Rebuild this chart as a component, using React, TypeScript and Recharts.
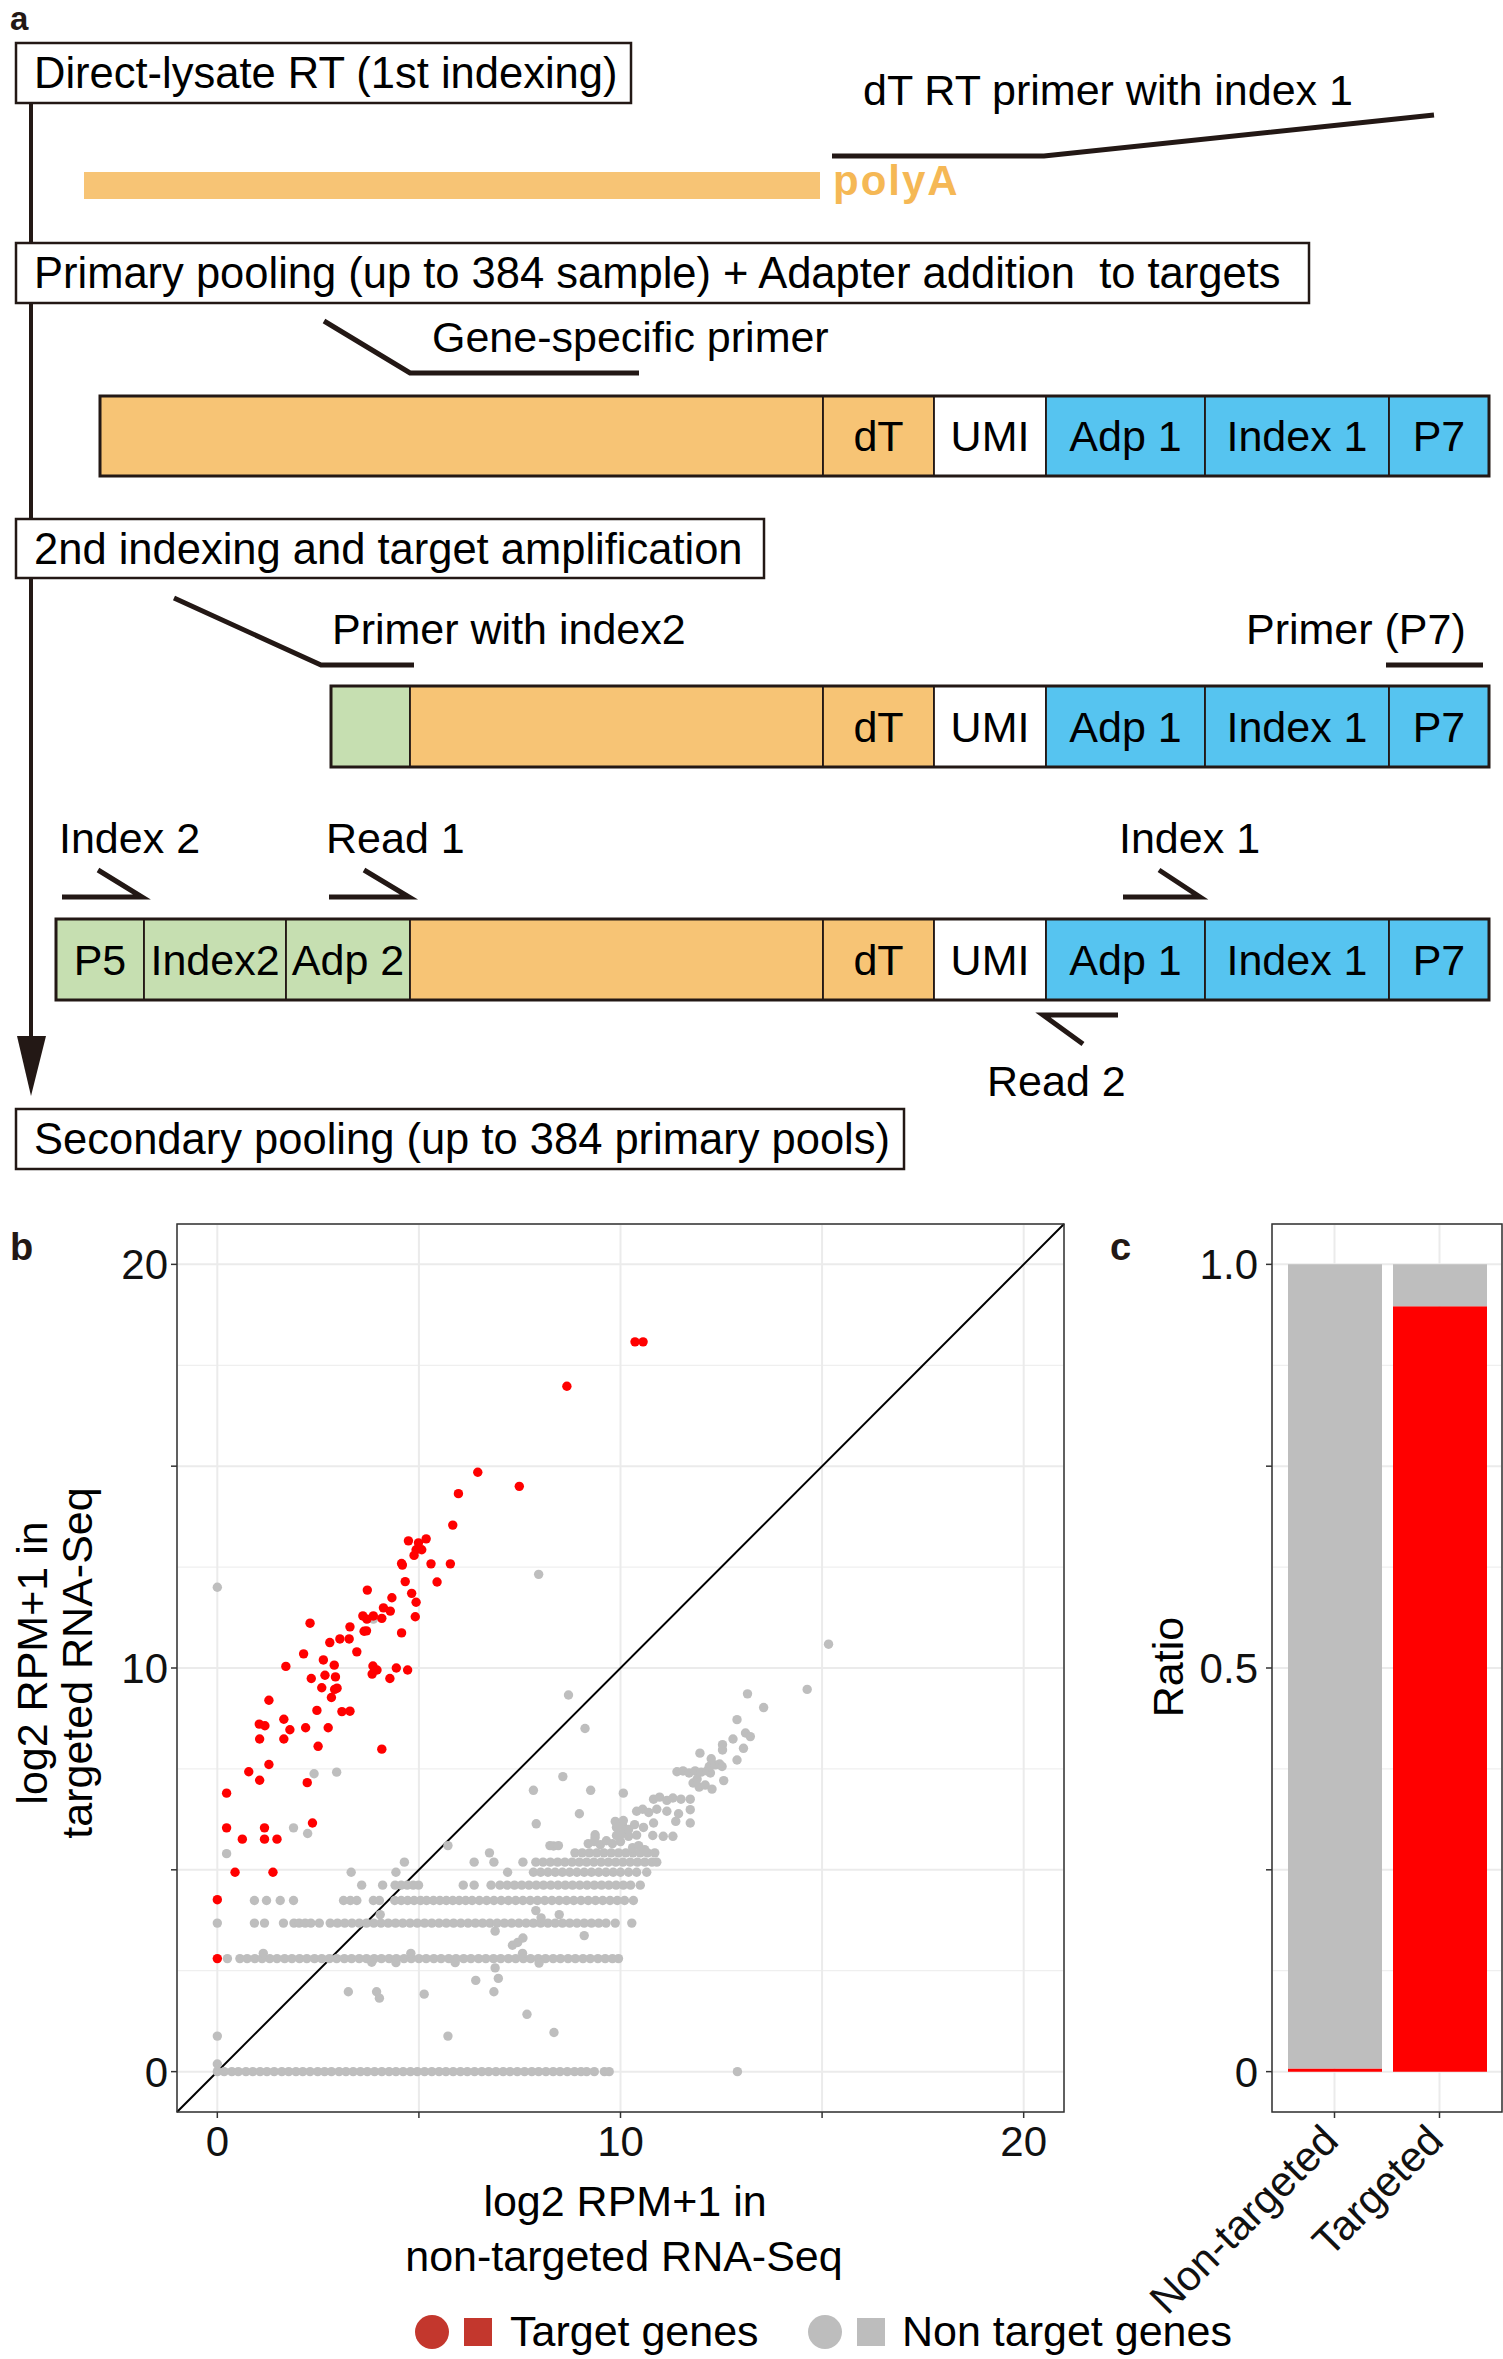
import React from "react";
import {
  ScatterChart,
  Scatter,
  BarChart,
  Bar,
  XAxis,
  YAxis,
  CartesianGrid,
  ReferenceLine,
} from "recharts";

const FONT = "Arial, 'Liberation Sans', Helvetica, sans-serif";
const INK = "#231815";
const ORANGE = "#F7C475";
const POLYA = "#F5B855";
const BLUE = "#56C4F0";
const GREEN = "#C6DFB1";
const RED = "#FF0000";
const GREY = "#BEBEBE";
const GRID = "#EBEBEB";
const LEGEND_RED = "#C3372D";
const LEGEND_GREY = "#BDBDBD";

// ---- panel b: log2 RPM+1, non-targeted (x) vs targeted (y) ----
// target genes (red)
const targetGenes: [number, number][] = [
  [0, 2.8], [0, 4.26], [0.44, 4.94], [1.38, 4.94], [0.62, 5.76], [1.17, 5.76], [1.48, 5.76],
  [0.23, 6.04], [1.17, 6.04], [2.36, 6.16], [0.23, 6.9], [1.05, 7.22], [2.23, 7.16], [0.78, 7.43],
  [1.28, 7.61], [4.08, 7.99], [2.5, 8.06], [1.05, 8.24], [1.65, 8.24], [1.8, 8.47], [2.19, 8.52],
  [2.75, 8.52], [1.04, 8.61], [1.18, 8.57], [1.65, 8.73], [2.47, 8.95], [3.09, 8.92], [3.29, 8.93],
  [1.28, 9.2], [2.83, 9.27], [2.91, 9.47], [2.97, 9.5], [2.59, 9.51], [2.33, 9.74], [2.67, 9.82],
  [2.93, 9.78], [4.28, 9.74], [3.86, 10.05], [3.96, 9.95], [3.84, 9.85], [4.44, 10.0], [4.72, 9.95],
  [1.7, 10.04], [2.9, 10.07], [2.63, 10.2], [2.14, 10.35], [3.46, 10.4], [2.79, 10.63], [3.04, 10.72],
  [3.27, 10.72], [4.57, 10.87], [3.64, 10.91], [3.7, 10.92], [3.29, 11.02], [2.3, 11.11], [3.61, 11.29],
  [3.71, 11.21], [3.87, 11.29], [4.08, 11.23], [4.91, 11.27], [4.12, 11.49], [4.29, 11.41], [4.93, 11.63],
  [4.33, 11.74], [4.82, 11.85], [3.72, 11.93], [4.66, 12.14], [5.45, 12.13], [4.57, 12.59], [4.59, 12.55],
  [5.3, 12.58], [5.78, 12.58], [4.88, 12.79], [4.93, 12.93], [5.07, 12.93], [4.74, 13.15], [4.99, 13.1],
  [5.18, 13.2], [5.84, 13.54], [5.98, 14.32], [7.49, 14.5], [6.46, 14.85], [8.67, 16.98], [10.36, 18.08],
  [10.56, 18.08],
];

// non-target genes sitting on the discrete low-count levels
const bandLevels = [0, 2.8, 3.68, 4.24, 4.62, 4.94, 5.19, 5.42];
const bandX: number[][] = [
  [0, 0.17, 0.36, 0.52, 0.71, 0.88, 1.06, 1.23, 1.41, 1.6, 1.77, 1.95, 2.12, 2.3, 2.49, 2.66, 2.83, 3.02,
    3.19, 3.37, 3.55, 3.72, 3.9, 4.08, 4.26, 4.43, 4.61, 4.79, 4.96, 5.14, 5.32, 5.5, 5.67, 5.85, 6.03,
    6.2, 6.38, 6.56, 6.73, 6.91, 7.09, 7.26, 7.44, 7.62, 7.8, 7.97, 8.15, 8.33, 8.5, 8.68, 8.86, 9.02,
    9.16, 9.35, 9.6, 9.72],
  [0.25, 0.56, 0.74, 0.93, 1.11, 1.3, 1.48, 1.67, 1.85, 2.04, 2.22, 2.41, 2.59, 2.78, 2.96, 3.15, 3.33,
    3.52, 3.7, 3.89, 4.07, 4.26, 4.44, 4.63, 4.81, 5.0, 5.18, 5.37, 5.55, 5.74, 5.92, 6.11, 6.29, 6.48,
    6.66, 6.85, 7.03, 7.22, 7.4, 7.59, 7.77, 7.96, 8.14, 8.33, 8.51, 8.7, 8.88, 9.07, 9.25, 9.44, 9.62,
    9.8, 9.95],
  [0, 0.92, 1.17, 1.64, 1.9, 2.03, 2.18, 2.32, 2.53, 2.8, 2.98, 3.16, 3.34, 3.52, 3.7, 3.88, 4.06, 4.24,
    4.42, 4.6, 4.78, 4.96, 5.14, 5.32, 5.5, 5.68, 5.86, 6.04, 6.22, 6.4, 6.58, 6.76, 6.94, 7.12, 7.3,
    7.48, 7.66, 7.84, 8.02, 8.2, 8.38, 8.56, 8.74, 8.92, 9.1, 9.28, 9.46, 9.64, 9.87, 10.28],
  [0.92, 1.22, 1.56, 1.89, 3.13, 3.3, 3.46, 3.87, 4.02, 4.4, 4.56, 4.72, 4.88, 5.04, 5.19, 5.36, 5.52,
    5.68, 5.84, 6.0, 6.16, 6.32, 6.5, 6.68, 6.86, 7.04, 7.22, 7.4, 7.58, 7.76, 7.94, 8.12, 8.3, 8.48,
    8.66, 8.84, 9.02, 9.2, 9.38, 9.56, 9.74, 9.92, 10.1, 10.32],
  [3.58, 4.1, 4.41, 4.56, 4.71, 4.86, 4.99, 6.1, 6.37, 6.79, 7.01, 7.19, 7.37, 7.55, 7.73, 7.91, 8.09,
    8.27, 8.45, 8.63, 8.81, 8.99, 9.17, 9.35, 9.53, 9.71, 9.89, 10.07, 10.25, 10.49],
  [3.32, 4.43, 7.2, 7.84, 8.02, 8.2, 8.38, 8.56, 8.74, 8.92, 9.1, 9.28, 9.46, 9.64, 9.82, 10.0, 10.2,
    10.4, 10.65],
  [4.64, 6.37, 6.86, 7.58, 7.9, 8.08, 8.26, 8.44, 8.62, 8.8, 8.98, 9.16, 9.34, 9.52, 9.7, 9.88, 10.06,
    10.24, 10.42, 10.6, 10.78, 10.9],
  [6.75, 8.87, 9.05, 9.23, 9.41, 9.59, 9.77, 9.95, 10.13, 10.31, 10.49, 10.67, 10.85],
];

// the remaining non-target genes
const otherGenes: [number, number][] = [
  [0, 12.0], [3.87, 11.21], [7.97, 12.32], [8.71, 9.33], [9.12, 8.5], [8.57, 7.31], [7.84, 6.97],
  [9.26, 6.97], [10.07, 6.9], [7.91, 6.14], [8.98, 6.39], [2.4, 7.38], [2.96, 7.42], [1.89, 6.04],
  [2.24, 5.9], [0.23, 5.4], [5.72, 5.6], [8.34, 5.59], [8.25, 5.6], [8.46, 5.6],
  [9.37, 5.87], [9.37, 5.8], [9.9, 5.85], [10.05, 5.9], [10.2, 5.83], [10.4, 5.86], [10.8, 5.85],
  [11.06, 5.83], [11.3, 5.83], [9.9, 6.05], [10.05, 6.1], [10.2, 6.0], [10.35, 6.12], [10.57, 6.05],
  [10.82, 6.16], [11.37, 6.2], [11.73, 6.16], [9.87, 6.2], [10.07, 6.22],
  [9.2, 5.65], [9.35, 5.7], [9.5, 5.62], [9.65, 5.72], [9.8, 5.65], [10.0, 5.7], [10.3, 5.55],
  [10.45, 5.6], [10.6, 5.5], [10.4, 6.45], [10.55, 6.5], [10.7, 6.42], [10.9, 6.5], [11.15, 6.45],
  [11.44, 6.39], [11.73, 6.49], [10.82, 6.75], [10.97, 6.8], [11.15, 6.72], [11.3, 6.78], [11.5, 6.75],
  [11.73, 6.75], [11.4, 7.43], [11.55, 7.45], [11.7, 7.4], [11.85, 7.45], [12.0, 7.42], [12.15, 7.45],
  [12.23, 7.4], [11.8, 7.15], [11.95, 7.05], [12.1, 7.1], [12.27, 7.0], [11.9, 7.25], [12.56, 7.21],
  [12.2, 7.56], [12.35, 7.6], [12.46, 7.62], [12.52, 7.56], [12.25, 7.75], [12.89, 7.72], [11.97, 7.89],
  [12.53, 8.1], [12.53, 7.97], [13.05, 8.01], [12.79, 8.24], [13.1, 8.39], [13.22, 8.3], [12.89, 8.72],
  [13.55, 9.02], [13.15, 9.36], [14.63, 9.47], [15.16, 10.59],
  [9.1, 3.37], [8.48, 3.89], [7.9, 3.99], [6.89, 3.48], [7.58, 3.31], [7.32, 3.13], [7.45, 3.2],
  [6.89, 2.57], [6.97, 2.31], [6.41, 2.26], [6.86, 1.98], [3.25, 1.98], [3.95, 1.98], [4.02, 1.82],
  [5.13, 1.92], [7.68, 1.42], [5.72, 0.88], [8.35, 0.97], [0, 0.88], [0, 0.19], [12.9, 0],
  [1.14, 2.93], [4.8, 2.93], [7.57, 2.93], [3.83, 2.71], [4.43, 2.7], [5.9, 2.7], [7.98, 2.69],
  [8.03, 3.81], [4.04, 3.89],
];

const axisMajor = [0, 5, 10, 15, 20];
const axisMinor = [2.5, 7.5, 12.5, 17.5];
const axisLabelled = [0, 10, 20];

// ---- panel c: share of reads from target / non-target genes ----
const libraries = ["Non-targeted", "Targeted"];
const targetShare = [0.004, 0.948];
const nonTargetShare = [0.996, 0.052];
const ratioMajor = [0, 0.25, 0.5, 0.75, 1];
const ratioMinor = [0.125, 0.375, 0.625, 0.875];
const ratioLabelled = [0, 0.5, 1];

const targetPoints = targetGenes.map(([x, y]) => ({ x, y }));
const nonTargetPoints = [
  ...bandLevels.flatMap((y, i) => bandX[i].map((x) => ({ x, y }))),
  ...otherGenes.map(([x, y]) => ({ x, y })),
];
const ratioData = libraries.map((name, i) => ({
  name,
  target: targetShare[i],
  nonTarget: nonTargetShare[i],
}));

// layout of the two plots (page pixels)
const SC = { left: 0, top: 1190, width: 1080, mTop: 34, mRight: 16, yW: 177, plotH: 888, xH: 60 };
const BC = { left: 1100, top: 1190, width: 403, mTop: 34, mRight: 1, yW: 172, plotH: 888, xH: 250 };

const TICK_TEXT = { fontSize: 42, fontFamily: FONT, fill: "#111" };

const dot = (fill: string) => (p: any) => <circle cx={p.cx} cy={p.cy} r={4.7} fill={fill} />;

const SlantTick = (props: any) => {
  const { x, y, payload } = props;
  return (
    <text
      transform={`translate(${x + 6},${y + 23}) rotate(-45)`}
      textAnchor="end"
      fontSize={42}
      fontFamily={FONT}
      fill="#111"
    >
      {payload.value}
    </text>
  );
};

function ScatterPanel() {
  return (
    <div style={{ position: "absolute", left: SC.left, top: SC.top }}>
      <ScatterChart
        width={SC.width}
        height={SC.mTop + SC.plotH + SC.xH}
        margin={{ top: SC.mTop, right: SC.mRight, bottom: 0, left: 0 }}
      >
        <XAxis
          type="number"
          dataKey="x"
          domain={[-1, 21]}
          ticks={axisMajor}
          interval={0}
          allowDataOverflow
          axisLine={false}
          tickLine={{ stroke: "#333", strokeWidth: 1.5 }}
          tickSize={6}
          tickMargin={8}
          height={SC.xH}
          tick={TICK_TEXT}
          tickFormatter={(v: number) => (axisLabelled.includes(v) ? String(v) : "")}
        />
        <YAxis
          type="number"
          dataKey="y"
          domain={[-1, 21]}
          ticks={axisMajor}
          interval={0}
          allowDataOverflow
          axisLine={false}
          tickLine={{ stroke: "#333", strokeWidth: 1.5 }}
          tickSize={6}
          tickMargin={3}
          width={SC.yW}
          tick={TICK_TEXT}
          tickFormatter={(v: number) => (axisLabelled.includes(v) ? String(v) : "")}
        />
        <XAxis xAxisId="minor" type="number" domain={[-1, 21]} ticks={axisMinor} allowDataOverflow hide />
        <YAxis yAxisId="minor" type="number" domain={[-1, 21]} ticks={axisMinor} allowDataOverflow hide />
        <CartesianGrid xAxisId="minor" yAxisId="minor" stroke={GRID} strokeWidth={1} />
        <CartesianGrid stroke={GRID} strokeWidth={2} />
        <Scatter data={nonTargetPoints} fill={GREY} shape={dot(GREY)} isAnimationActive={false} />
        <Scatter data={targetPoints} fill={RED} shape={dot(RED)} isAnimationActive={false} />
        <ReferenceLine
          segment={[
            { x: -1, y: -1 },
            { x: 21, y: 21 },
          ]}
          stroke="#000"
          strokeWidth={2}
        />
      </ScatterChart>
    </div>
  );
}

function RatioPanel() {
  return (
    <div style={{ position: "absolute", left: BC.left, top: BC.top }}>
      <BarChart
        width={BC.width}
        height={BC.mTop + BC.plotH + BC.xH}
        data={ratioData}
        margin={{ top: BC.mTop, right: BC.mRight, bottom: 0, left: 0 }}
        barSize={94}
      >
        <XAxis
          dataKey="name"
          padding={{ left: 10, right: 10 }}
          interval={0}
          axisLine={false}
          tickLine={{ stroke: "#333", strokeWidth: 1.5 }}
          tickSize={6}
          tickMargin={2}
          height={BC.xH}
          tick={<SlantTick />}
        />
        <YAxis
          type="number"
          domain={[-0.05, 1.05]}
          ticks={ratioMajor}
          interval={0}
          allowDataOverflow
          axisLine={false}
          tickLine={{ stroke: "#333", strokeWidth: 1.5 }}
          tickSize={6}
          tickMargin={8}
          width={BC.yW}
          tick={TICK_TEXT}
          tickFormatter={(v: number) => (ratioLabelled.includes(v) ? (v === 1 ? "1.0" : String(v)) : "")}
        />
        <YAxis yAxisId="minor" type="number" domain={[-0.05, 1.05]} ticks={ratioMinor} allowDataOverflow hide />
        <CartesianGrid yAxisId="minor" vertical={false} stroke={GRID} strokeWidth={1} />
        <CartesianGrid stroke={GRID} strokeWidth={2} />
        <Bar dataKey="target" stackId="s" fill={RED} isAnimationActive={false} />
        <Bar dataKey="nonTarget" stackId="s" fill={GREY} isAnimationActive={false} />
      </BarChart>
    </div>
  );
}

// ---- panel a: library construction schematic ----
type Seg = [string, string, number, number];
const TAIL: Seg[] = [
  ["dT", ORANGE, 823, 934],
  ["UMI", "#FFFFFF", 934, 1046],
  ["Adp 1", BLUE, 1046, 1205],
  ["Index 1", BLUE, 1205, 1389],
  ["P7", BLUE, 1389, 1489],
];

function Construct({ y, h, segs }: { y: number; h: number; segs: Seg[] }) {
  const x0 = segs[0][2];
  const x1 = segs[segs.length - 1][3];
  return (
    <g>
      {segs.map(([label, fill, a, b], i) => (
        <g key={i}>
          <rect x={a} y={y} width={b - a} height={h} fill={fill} stroke={INK} strokeWidth={1.8} />
          {label && (
            <text x={(a + b) / 2} y={y + h / 2 + 15} textAnchor="middle" fontSize={43} fontFamily={FONT} fill="#000">
              {label}
            </text>
          )}
        </g>
      ))}
      <rect x={x0} y={y} width={x1 - x0} height={h} fill="none" stroke={INK} strokeWidth={3} />
    </g>
  );
}

function StepBox({ x, y, w, h, text }: { x: number; y: number; w: number; h: number; text: string }) {
  return (
    <g>
      <rect x={x} y={y} width={w} height={h} fill="#fff" stroke={INK} strokeWidth={2.5} />
      <text x={x + 18} y={y + h / 2 + 15} fontSize={43.5} fontFamily={FONT} fill="#000" style={{ whiteSpace: "pre" }}>
        {text}
      </text>
    </g>
  );
}

function Schematic() {
  const T = { fontSize: 43, fontFamily: FONT, fill: "#000" };
  const P = { fill: "none", stroke: INK, strokeWidth: 5, strokeLinejoin: "miter" as const };
  return (
    <g>
      <text x={10} y={30} fontSize={33} fontWeight="bold" fontFamily={FONT} fill={INK}>a</text>
      {/* workflow arrow */}
      <line x1={31} y1={100} x2={31} y2={1045} stroke={INK} strokeWidth={4} />
      <polygon points="17,1036 46,1036 31,1096" fill={INK} />

      <StepBox x={16} y={43} w={615} h={60} text="Direct-lysate RT (1st indexing)" />
      <text x={863} y={105} {...T}>dT RT primer with index 1</text>
      <polyline points="832,156 1044,156 1434,115" {...P} />
      <rect x={84} y={172} width={736} height={27} fill={ORANGE} />
      <text x={833} y={195} fontSize={42} fontWeight="bold" fontFamily={FONT} fill={POLYA} letterSpacing={2}>polyA</text>

      <StepBox x={16} y={243} w={1293} h={60} text="Primary pooling (up to 384 sample) + Adapter addition  to targets" />
      <polyline points="324,321 410,373 639,373" {...P} />
      <text x={432} y={352} {...T}>Gene-specific primer</text>
      <Construct y={396} h={80} segs={[["", ORANGE, 100, 823], ...TAIL]} />

      <StepBox x={16} y={519} w={748} h={59} text="2nd indexing and target amplification" />
      <polyline points="174,598 321,665 414,665" {...P} />
      <text x={332} y={644} {...T}>Primer with index2</text>
      <text x={1246} y={644} {...T}>Primer (P7)</text>
      <line x1={1386} y1={665} x2={1483} y2={665} stroke={INK} strokeWidth={5} />
      <Construct y={686} h={81} segs={[["", GREEN, 331, 410], ["", ORANGE, 410, 823], ...TAIL]} />

      <text x={59} y={853} {...T}>Index 2</text>
      <text x={326} y={853} {...T}>Read 1</text>
      <text x={1119} y={853} {...T}>Index 1</text>
      <polyline points="62,897 142,897 98,870" {...P} />
      <polyline points="329,897 409,897 364,870" {...P} />
      <polyline points="1123,897 1200,897 1159,870" {...P} />
      <Construct
        y={919}
        h={81}
        segs={[["P5", GREEN, 56, 144], ["Index2", GREEN, 144, 286], ["Adp 2", GREEN, 286, 410], ["", ORANGE, 410, 823], ...TAIL]}
      />
      <polyline points="1118,1015 1043,1015 1083,1044" {...P} />
      <text x={987} y={1096} {...T}>Read 2</text>

      <StepBox x={16} y={1109} w={888} h={60} text="Secondary pooling (up to 384 primary pools)" />
    </g>
  );
}

function Overlay() {
  const T = { fontSize: 43, fontFamily: FONT, fill: "#000" };
  const scPlot = { x: SC.left + SC.yW, y: SC.top + SC.mTop, w: SC.width - SC.yW - SC.mRight, h: SC.plotH };
  const bcPlot = { x: BC.left + BC.yW, y: BC.top + BC.mTop, w: BC.width - BC.yW - BC.mRight, h: BC.plotH };
  return (
    <svg width={1503} height={2359} style={{ position: "absolute", left: 0, top: 0, pointerEvents: "none" }}>
      <Schematic />

      {/* panel b */}
      <text x={10} y={1260} fontSize={38} fontWeight="bold" fontFamily={FONT} fill={INK}>b</text>
      <rect x={scPlot.x} y={scPlot.y} width={scPlot.w} height={scPlot.h} fill="none" stroke="#333" strokeWidth={1.5} />
      <text transform="translate(47,1663) rotate(-90)" textAnchor="middle" {...T}>log2 RPM+1 in</text>
      <text transform="translate(92,1663) rotate(-90)" textAnchor="middle" {...T}>targeted RNA-Seq</text>
      <text x={625} y={2216} textAnchor="middle" {...T}>log2 RPM+1 in</text>
      <text x={624} y={2271} textAnchor="middle" {...T}>non-targeted RNA-Seq</text>

      {/* panel c */}
      <text x={1110} y={1260} fontSize={38} fontWeight="bold" fontFamily={FONT} fill={INK}>c</text>
      <rect x={bcPlot.x} y={bcPlot.y} width={bcPlot.w} height={bcPlot.h} fill="none" stroke="#333" strokeWidth={1.5} />
      <text transform="translate(1183,1667) rotate(-90)" textAnchor="middle" {...T}>Ratio</text>

      {/* shared legend */}
      <circle cx={432} cy={2332} r={17} fill={LEGEND_RED} />
      <rect x={464} y={2318} width={28} height={28} fill={LEGEND_RED} />
      <text x={510} y={2346} {...T}>Target genes</text>
      <circle cx={825} cy={2332} r={17} fill={LEGEND_GREY} />
      <rect x={857} y={2318} width={28} height={28} fill={LEGEND_GREY} />
      <text x={902} y={2346} {...T}>Non target genes</text>
    </svg>
  );
}

export default function App() {
  return (
    <div
      style={{
        position: "absolute",
        left: 0,
        top: 0,
        width: 1503,
        height: 2359,
        background: "#fff",
        overflow: "hidden",
        fontFamily: FONT,
      }}
    >
      <ScatterPanel />
      <RatioPanel />
      <Overlay />
    </div>
  );
}
